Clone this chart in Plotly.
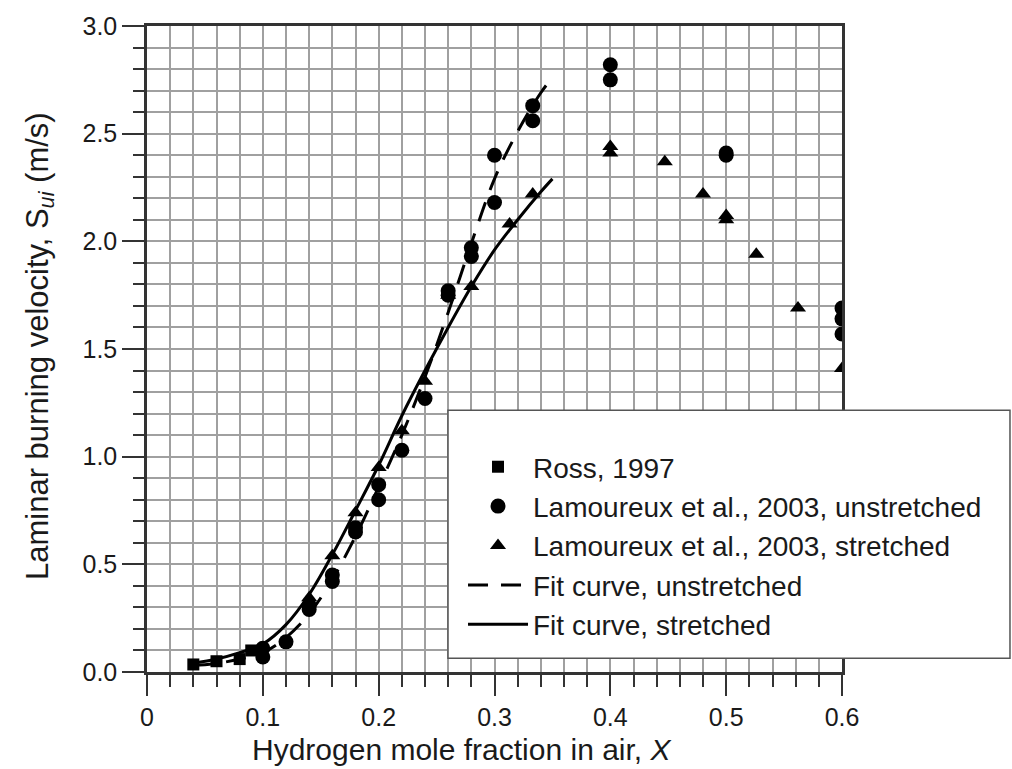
import plotly.graph_objects as go

# ---- data ----
ross_x = [0.04, 0.06, 0.08, 0.09]
ross_y = [0.035, 0.05, 0.06, 0.10]

unstr_x = [0.10, 0.10, 0.12, 0.14, 0.14, 0.16, 0.16, 0.18, 0.18, 0.20, 0.20, 0.22, 0.24,
           0.26, 0.26, 0.28, 0.28, 0.30, 0.30, 0.333, 0.333, 0.40, 0.40, 0.50, 0.50,
           0.60, 0.60, 0.60]
unstr_y = [0.07, 0.11, 0.14, 0.29, 0.31, 0.42, 0.45, 0.65, 0.67, 0.80, 0.87, 1.03, 1.27,
           1.75, 1.77, 1.93, 1.97, 2.18, 2.40, 2.56, 2.63, 2.75, 2.82, 2.40, 2.41,
           1.57, 1.64, 1.69]

str_x = [0.14, 0.16, 0.18, 0.20, 0.22, 0.24, 0.26, 0.28, 0.313, 0.333, 0.40, 0.40,
         0.447, 0.48, 0.50, 0.50, 0.526, 0.562, 0.60]
str_y = [0.345, 0.54, 0.74, 0.95, 1.12, 1.35, 1.75, 1.79, 2.08, 2.22, 2.41, 2.44,
         2.37, 2.22, 2.10, 2.12, 1.94, 1.69, 1.41]

fit_x = [0.04, 0.06, 0.08, 0.10, 0.12, 0.14, 0.16, 0.18, 0.20, 0.22, 0.24, 0.26,
         0.28, 0.30, 0.32, 0.34, 0.35]
fit_unstr_y = [0.03, 0.04, 0.06, 0.09, 0.16, 0.27, 0.43, 0.63, 0.86, 1.10, 1.37, 1.67,
               1.99, 2.29, 2.51, 2.69, 2.76]
fit_str_y = [0.04, 0.06, 0.09, 0.13, 0.22, 0.36, 0.545, 0.75, 0.96, 1.19, 1.40, 1.60,
             1.79, 1.96, 2.10, 2.23, 2.29]

x_title = "Hydrogen mole fraction in air, <i>X</i>"
y_title = "Laminar burning velocity, S<sub><i>ui</i></sub> (m/s)"

FONT = "Liberation Sans, Arial, sans-serif"
INK = "#1a1a1a"
GRID = "#a0a0a0"

fig = go.Figure()
fig.add_trace(go.Scatter(x=fit_x, y=fit_unstr_y, mode="lines", name="Fit curve, unstretched",
                         line=dict(color="black", width=3, dash="20px,13px", shape="spline"),
                         legendrank=4))
fig.add_trace(go.Scatter(x=fit_x, y=fit_str_y, mode="lines", name="Fit curve, stretched",
                         line=dict(color="black", width=3, shape="spline"),
                         legendrank=5))
fig.add_trace(go.Scatter(x=ross_x, y=ross_y, mode="markers", name="Ross, 1997",
                         marker=dict(symbol="square", size=12, color="black"), legendrank=1))
fig.add_trace(go.Scatter(x=unstr_x, y=unstr_y, mode="markers",
                         name="Lamoureux et al., 2003, unstretched",
                         marker=dict(symbol="circle", size=15, color="black"), legendrank=2))
fig.add_trace(go.Scatter(x=str_x, y=str_y, mode="markers",
                         name="Lamoureux et al., 2003, stretched",
                         marker=dict(symbol="triangle-up", size=14, color="black"), legendrank=3))

axis_common = dict(
    showline=True, linewidth=2.5, linecolor="#333333", mirror=True,
    showgrid=True, gridcolor=GRID, gridwidth=1.5, zeroline=False,
    ticks="outside", tickwidth=2, tickcolor="#333333",
    tickfont=dict(family=FONT, size=25, color=INK),
)
fig.update_xaxes(range=[0, 0.6], tick0=0, dtick=0.1, ticklen=21,
                 minor=dict(dtick=0.02, ticks="outside", ticklen=12, tickwidth=2,
                            tickcolor="#333333", showgrid=True, gridcolor=GRID, gridwidth=1.5),
                 **axis_common)
fig.update_yaxes(range=[0, 3.0], tick0=0, dtick=0.5, tickformat=".1f", ticklen=22,
                 minor=dict(dtick=0.1, ticks="outside", ticklen=11, tickwidth=2,
                            tickcolor="#333333", showgrid=True, gridcolor=GRID, gridwidth=1.5),
                 **axis_common)

fig.add_shape(type="rect", xref="paper", yref="paper", x0=0.4331, x1=1.2417, y0=0.0214, y1=0.4052,
              fillcolor="white", line=dict(color="#555555", width=1.5), layer="above")

fig.add_annotation(text=x_title, xref="paper", yref="paper", x=0.453, y=-0.12,
                   xanchor="center", yanchor="middle", showarrow=False,
                   font=dict(family=FONT, size=30, color=INK))
fig.add_annotation(text=y_title, xref="paper", yref="paper", x=-0.154, y=0.5046,
                   xanchor="center", yanchor="middle", showarrow=False, textangle=-90,
                   font=dict(family=FONT, size=31, color=INK))

fig.update_layout(
    width=1012, height=769,
    margin=dict(l=147, r=170, t=18, b=97),
    plot_bgcolor="white", paper_bgcolor="white",
    font=dict(family=FONT, color=INK),
    showlegend=True,
    legend=dict(x=0.4547, y=0.356, xanchor="left", yanchor="top",
                bgcolor="rgba(0,0,0,0)", borderwidth=0, itemwidth=60,
                font=dict(family=FONT, size=28, color=INK), tracegroupgap=0),
)

fig.write_html("out.html")
